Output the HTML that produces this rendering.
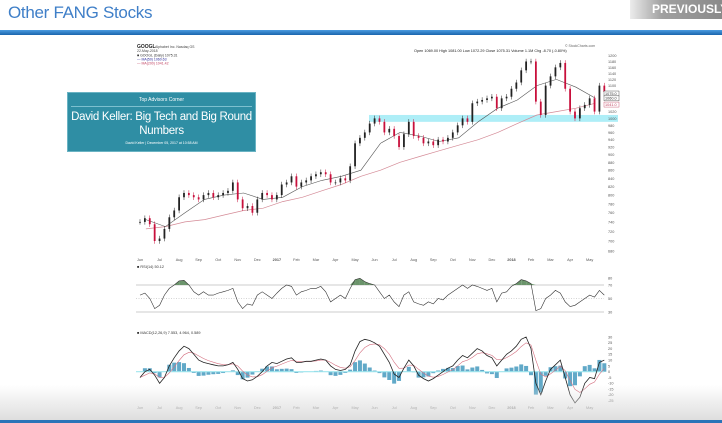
<!DOCTYPE html>
<html><head><meta charset="utf-8">
<style>
html,body{margin:0;padding:0;width:722px;height:423px;overflow:hidden;background:#fff;font-family:"Liberation Sans",sans-serif;}
#title{position:absolute;left:8px;top:3px;font-size:17px;color:#3f7fc8;letter-spacing:-0.3px;}
#prev{position:absolute;left:630px;top:0;width:92px;height:19px;background:linear-gradient(90deg,#ececec,#a0a0a0 35%,#8a8a8a);color:#fff;font-weight:bold;font-size:12px;line-height:19px;padding-left:22px;box-sizing:border-box;}
#bar{position:absolute;left:0;top:30px;width:722px;height:5px;background:linear-gradient(#4b9be0,#1a64ad);}
#fade{position:absolute;left:0;top:385px;width:722px;height:35px;background:linear-gradient(rgba(255,255,255,0),#dedede);}
#bot{position:absolute;left:0;top:420px;width:722px;height:3px;background:#2a74b8;}
#box{position:absolute;left:67px;top:92px;width:189px;height:60px;background:#2f8ea4;color:#fff;text-align:center;border:1px solid #6ab3c3;box-sizing:border-box;}
#box .t{font-size:5px;padding-top:4px;border-bottom:1px solid #7cc0cf;padding-bottom:3px;margin:0 3px;}
#box .h{font-size:11.5px;line-height:14px;margin-top:3px;letter-spacing:-0.3px;}
#box .s{font-size:3.5px;margin-top:3px;}
svg{position:absolute;left:0;top:0;}
</style></head><body>
<div id="title">Other FANG Stocks</div>
<div id="prev">PREVIOUSLY</div>
<div id="bar"></div>
<svg id="chart" width="722" height="423"></svg>
<div id="box">
<div class="t">Top Advisors Corner</div>
<div class="h">David Keller: Big Tech and Big Round<br>Numbers</div>
<div class="s">David Keller | December 05, 2017 at 10:58 AM</div>
</div>
<div id="fade"></div>
<div id="bot"></div>
<script>
const months=["Jun","Jul","Aug","Sep","Oct","Nov","Dec","2017","Feb","Mar","Apr","May","Jun","Jul","Aug","Sep","Oct","Nov","Dec","2018","Feb","Mar","Apr","May"];
const priceTicks=[680,700,720,740,760,780,800,820,840,860,880,900,920,940,960,980,1000,1020,1040,1060,1080,1100,1120,1140,1160,1180,1200];
const closes=[740,748,735,700,705,725,750,765,795,805,800,795,790,800,805,795,800,805,810,830,790,770,775,760,790,805,800,790,800,825,830,845,820,830,835,845,850,855,850,830,830,840,835,870,930,945,960,985,1000,990,960,970,950,920,955,990,950,945,930,935,925,940,935,945,960,980,1000,990,1045,1050,1055,1060,1065,1030,1060,1065,1090,1110,1150,1180,1180,1050,1010,1100,1130,1160,1175,1090,1020,1000,1030,1040,1060,1020,1100,1080];
const ma50=[745,730,760,790,800,805,790,795,820,835,845,860,930,960,950,935,945,990,1030,1055,1100,1120,1095,1060];
const ma200=[725,730,740,745,755,765,770,785,795,810,825,845,860,880,895,910,925,940,960,985,1010,1020,1030,1045];
const rsi=[55,58,50,35,40,55,65,70,76,77,70,60,55,60,55,55,58,60,62,65,45,35,42,40,55,60,55,50,58,65,70,68,55,60,62,65,65,68,60,45,50,55,50,65,78,80,75,72,70,60,50,55,45,38,55,60,45,42,40,45,42,50,48,55,60,65,70,65,70,68,65,62,65,45,58,60,68,72,78,76,72,32,35,50,55,62,58,45,38,40,45,50,55,52,62,55];
const macd=[-5,0,2,-3,-10,-5,5,12,18,22,20,15,10,8,7,6,5,5,6,8,2,-6,-8,-7,-4,0,5,8,7,9,11,12,8,8,9,9,10,11,10,5,2,1,2,6,18,26,28,27,25,22,15,8,-2,-5,3,10,5,-3,-6,-8,-6,-3,0,3,5,10,14,12,16,20,18,14,12,5,10,15,18,22,28,30,20,-10,-20,-8,2,6,10,-5,-20,-27,-22,-10,-5,-6,8,10];
const rsiTicks=[30,50,70,80];
const macdTicks=[-25,-20,-15,-10,-5,0,5,10,15,20,25,30];

const svg=document.getElementById('chart');
const NS='http://www.w3.org/2000/svg';
function mk(tag,attrs,parent){const e=document.createElementNS(NS,tag);for(const k in attrs)e.setAttribute(k,attrs[k]);(parent||svg).appendChild(e);return e;}
const xM=m=>140+m*19.55;
const xW=i=>xM(i/4);
const yP=p=>55.7+(Math.log(1200)-Math.log(p))*343.8;
const yR=v=>285+(70-v)*0.675;
const yMD=v=>371.7-v*1.157;
const L=136,R=604;

let t=mk('text',{x:137,y:48,'font-size':5,'font-weight':'bold',fill:'#222'});t.textContent='GOOGL';

t=mk('text',{x:155,y:48,'font-size':3.5,fill:'#444'});t.textContent='Alphabet Inc.  Nasdaq GS';
t=mk('text',{x:137,y:52,'font-size':3.5,fill:'#444'});t.textContent='22-May-2018';
t=mk('text',{x:137,y:56.5,'font-size':3.5,fill:'#333'});t.textContent='■ GOOGL (Daily) 1075.31';
t=mk('text',{x:137,y:60.5,'font-size':3.5,fill:'#2a2a9a'});t.textContent='— MA(50) 1060.63';
t=mk('text',{x:137,y:64.5,'font-size':3.5,fill:'#c04060'});t.textContent='— MA(200) 1041.42';
t=mk('text',{x:565,y:47,'font-size':3.5,fill:'#666'});t.textContent='© StockCharts.com';
t=mk('text',{x:414,y:52,'font-size':3.8,fill:'#222'});t.textContent='Open 1069.00  High 1081.00  Low 1072.29  Close 1075.31  Volume 1.1M  Chg -8.70 (-0.80%)';


let band=mk('rect',{x:369,y:yP(1010),width:249,height:yP(990)-yP(1010),fill:'#aeeef7'});


priceTicks.forEach(p=>{const e=mk('text',{x:608,y:yP(p)+1.5,'font-size':3.8,fill:'#555'});e.textContent=p;
});

function line(arr,xf,yf,color,w,name){const d=arr.map((v,i)=>(i?'L':'M')+xf(i).toFixed(1)+','+yf(v).toFixed(1)).join('');
const e=mk('path',{d:d,fill:'none',stroke:color,'stroke-width':w});return e;}
line(ma200,i=>xM(i+0.3),yP,'#d48a96',0.7,'ma200-line');
line(ma50,i=>xM(i+0.3),yP,'#555',0.6,'ma50-line');

closes.forEach((c,i)=>{const o=i?closes[i-1]:c;const up=c>=o;const col=up?'#222':'#c8103c';const x=xW(i);
const hi=Math.max(o,c)*1.008,lo=Math.min(o,c)*0.992;
const w=mk('line',{x1:x,x2:x,y1:yP(hi),y2:yP(lo),stroke:col,'stroke-width':0.5});

const b=mk('rect',{x:x-0.9,y:yP(Math.max(o,c)),width:1.8,height:Math.max(0.8,yP(Math.min(o,c))-yP(Math.max(o,c))),fill:col});
});
[[1075,'#333'],[1060,'#333'],[1041,'#c04060']].forEach(a=>{mk('rect',{x:604,y:yP(a[0])-2.5,width:15,height:5,fill:'#fff',stroke:a[1],'stroke-width':0.4});
const e=mk('text',{x:605,y:yP(a[0])+1.4,'font-size':3.8,fill:a[1]});e.textContent=a[0]+'.0';});

function monthRow(y){months.forEach((m,i)=>{const e=mk('text',{x:xM(i),y:y,'font-size':3.8,fill:'#555','text-anchor':'middle','font-weight':(m.length===4?'bold':'normal')});e.textContent=m;
});}
monthRow(261);monthRow(409);

t=mk('text',{x:137,y:268,'font-size':3.8,fill:'#333'});t.textContent='■ RSI(14) 50.12';
mk('line',{x1:L,x2:R,y1:yR(70),y2:yR(70),stroke:'#999','stroke-width':0.5});
mk('line',{x1:L,x2:R,y1:yR(30),y2:yR(30),stroke:'#999','stroke-width':0.5});
mk('line',{x1:L,x2:R,y1:yR(50),y2:yR(50),stroke:'#aaa','stroke-width':0.5,'stroke-dasharray':'1,1.5'});
rsi.forEach((v,i)=>{if(i<rsi.length-1){const a=v,b=rsi[i+1];if(a>70||b>70){const x1=xW(i),x2=xW(i+1);
const pts=[[x1,yR(Math.max(a,70))],[x2,yR(Math.max(b,70))],[x2,yR(70)],[x1,yR(70)]].map(p=>p.join(',')).join(' ');
const e=mk('polygon',{points:pts,fill:'#6b946b'});}}});
line(rsi,xW,yR,'#333',0.6,'rsi-line');
rsiTicks.forEach(v=>{const e=mk('text',{x:608,y:yR(v)+1.4,'font-size':3.8,fill:'#555'});e.textContent=v;});

t=mk('text',{x:137,y:334,'font-size':3.8,fill:'#333'});t.textContent='■ MACD(12,26,9) 7.553, 4.964, 0.589';
const sig=[];macd.forEach((v,i)=>{sig.push(i?sig[i-1]+(v-sig[i-1])*0.4:v);});
macd.forEach((v,i)=>{const h=v-sig[i];const x=xW(i);
const e=mk('rect',{x:x-2,y:Math.min(yMD(0),yMD(h)),width:4,height:Math.abs(yMD(h)-yMD(0)),fill:'#3a93ba',opacity:0.8});
});
mk('line',{x1:L,x2:R,y1:yMD(0),y2:yMD(0),stroke:'#9fe6ee','stroke-width':1.2});
line(sig,xW,yMD,'#d47080',0.6,'macd-signal-line');
line(macd,xW,yMD,'#222',0.8,'macd-line');
macdTicks.forEach(v=>{const e=mk('text',{x:608,y:yMD(v)+1.4,'font-size':3.8,fill:'#555'});e.textContent=v;});
</script>
</body></html>
